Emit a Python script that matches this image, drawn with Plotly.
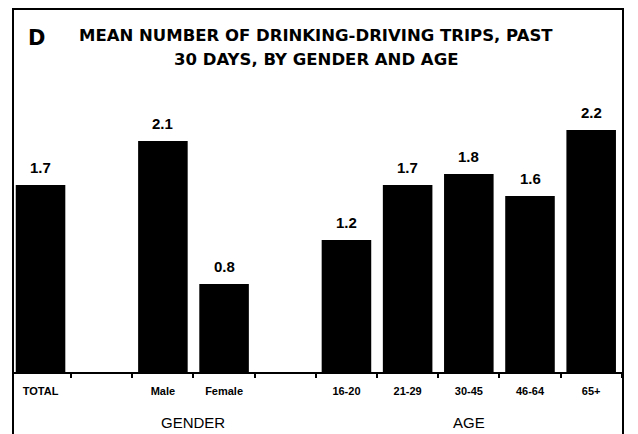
import plotly.graph_objects as go

# ---- data ----
total_label = "TOTAL"
total_value = 1.7
gender_labels = ["Male", "Female"]
gender_values = [2.1, 0.8]
age_labels = ["16-20", "21-29", "30-45", "46-64", "65+"]
age_values = [1.2, 1.7, 1.8, 1.6, 2.2]
group_names = ["GENDER", "AGE"]
title_lines = ["MEAN NUMBER OF DRINKING-DRIVING TRIPS, PAST",
               "30 DAYS, BY GENDER AND AGE"]
panel_letter = "D"

# build category axis with blank spacer slots between groups
cats = [total_label, " "] + gender_labels + ["  "] + age_labels
vals = [total_value, None] + gender_values + [None] + age_values

FONT = "Liberation Sans, Arial, sans-serif"
TFONT = "DejaVu Sans, Liberation Sans, sans-serif"

fig = go.Figure()
fig.add_trace(go.Bar(
    x=cats, y=vals,
    marker=dict(color="black", line=dict(width=0)),
    hoverinfo="skip",
))

# value labels
for c, v in zip(cats, vals):
    if v is None:
        continue
    fig.add_annotation(x=c, y=v, xref="x", yref="y", text=f"{v:.1f}",
                       showarrow=False, yanchor="bottom", yshift=7,
                       font=dict(family=FONT, size=15, color="black", weight="bold"))

# group labels
gender_center = (cats.index(gender_labels[0]) + cats.index(gender_labels[-1])) / 2
age_center = (cats.index(age_labels[0]) + cats.index(age_labels[-1])) / 2
for name, xc in zip(group_names, [gender_center, age_center]):
    fig.add_annotation(x=xc, y=0, xref="x", yref="paper", text=name,
                       showarrow=False, yanchor="middle", yshift=-50,
                       font=dict(family=FONT, size=15, color="black"))

# titles
fig.add_annotation(x=0.497, y=0.926, xref="paper", yref="paper", text=title_lines[0],
                   showarrow=False, xanchor="center", yanchor="middle",
                   font=dict(family=TFONT, size=16.5, color="black", weight="bold"))
fig.add_annotation(x=0.497, y=0.862, xref="paper", yref="paper", text=title_lines[1],
                   showarrow=False, xanchor="center", yanchor="middle",
                   font=dict(family=TFONT, size=16.5, color="black", weight="bold"))
fig.add_annotation(x=0.038, y=0.92, xref="paper", yref="paper", text=panel_letter,
                   showarrow=False, xanchor="center", yanchor="middle",
                   font=dict(family=TFONT, size=21, color="black", weight="bold"))

# frame (bottom edge falls just outside the picture, as in the reference)
fig.add_shape(type="rect", xref="paper", yref="paper", x0=0, x1=1, y0=-0.18, y1=1,
              line=dict(color="black", width=2), fillcolor="rgba(0,0,0,0)", layer="above")

# page body has an 8px default margin: figure is 630x426 so it fills the 638x434 window
fig.update_layout(
    width=630, height=426,
    margin=dict(l=5, r=15, t=1, b=62),
    paper_bgcolor="white", plot_bgcolor="white",
    showlegend=False, bargap=0.19,
    xaxis=dict(type="category", range=[-0.45, 9.52], tickson="boundaries",
               ticks="outside", ticklen=4, tickwidth=1.5, tickcolor="black",
               showline=True, linecolor="black", linewidth=1.5,
               showgrid=False, zeroline=False, ticklabelstandoff=8,
               tickfont=dict(family=FONT, size=11, color="black", weight="bold")),
    yaxis=dict(range=[0, 3.30], visible=False, showgrid=False, zeroline=False),
)

fig.write_html("out.html")
